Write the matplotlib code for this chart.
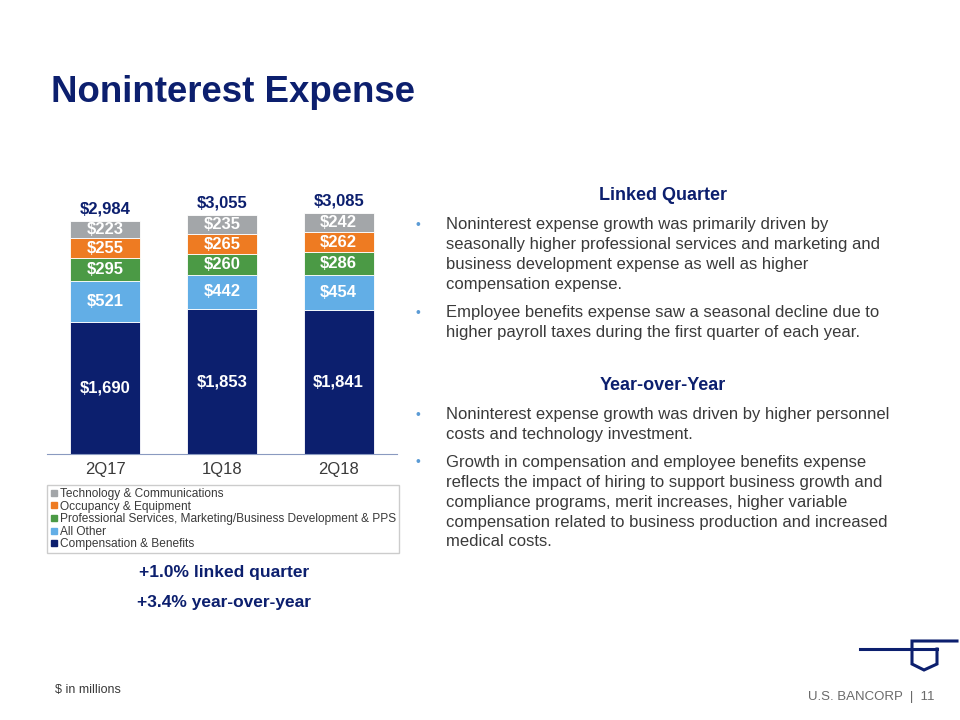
"""Noninterest Expense — stacked bars 2Q17 / 1Q18 / 2Q18, slide layout."""
import numpy as np
import matplotlib
matplotlib.use("Agg")
import matplotlib.pyplot as plt
from matplotlib.lines import Line2D

NAVY = "#0c1f6e"
TXT = "#3a3a3a"

quarters = ["2Q17", "1Q18", "2Q18"]
comp_benefits = [1690, 1853, 1841]
all_other = [521, 442, 454]
prof_services = [295, 260, 286]
occupancy = [255, 265, 262]
technology = [223, 235, 242]
totals = ["$2,984", "$3,055", "$3,085"]

series = [
    ("Compensation & Benefits", comp_benefits, "#0c1f6e"),
    ("All Other", all_other, "#62aee6"),
    ("Professional Services, Marketing/Business Development & PPS", prof_services, "#4b9a45"),
    ("Occupancy & Equipment", occupancy, "#ee7b22"),
    ("Technology & Communications", technology, "#a3a6a9"),
]

plt.rcParams["font.family"] = ["Liberation Sans", "DejaVu Sans"]
fig = plt.figure(figsize=(9.6, 7.2), dpi=100)

# chart area (pixel layout of the slide)
ax = fig.add_axes([47 / 960, 1 - 454 / 720, 350 / 960, 273.4 / 720])
x = np.arange(len(quarters))
bottom = np.zeros(len(quarters))
for name, vals, col in series:
    vals = np.array(vals, dtype=float)
    ax.bar(x, vals, 0.6, bottom=bottom, color=col, edgecolor="white", lw=0.6)
    for xi, b, v in zip(x, bottom, vals):
        ax.text(xi, b + v / 2, f"${v:,.0f}", ha="center", va="center",
                color="white", fontsize=12, fontweight="bold")
    bottom += vals
for xi, top, lab in zip(x, bottom, totals):
    ax.text(xi, top + 60, lab, ha="center", va="bottom", color=NAVY,
            fontsize=12, fontweight="bold")
ax.set_xlim(-0.5, 2.5)
ax.set_ylim(0, 3500)
ax.set_yticks([])
ax.set_xticks(x)
ax.set_xticklabels(quarters, fontsize=12, color=TXT)
ax.tick_params(axis="x", length=0, pad=6)
for s in ["top", "right", "left"]:
    ax.spines[s].set_visible(False)
ax.spines["bottom"].set_color("#8a9ac0")

handles = [Line2D([], [], marker="s", ls="", color=col, markersize=5, label=name)
           for name, _, col in series[::-1]]
fig.legend(handles=handles, loc="upper left", bbox_to_anchor=(47 / 960, 1 - 485 / 720),
           fontsize=8.6, frameon=True, fancybox=False, edgecolor="#c0c0c0",
           handlelength=0.6, handletextpad=0.2, labelspacing=0.05,
           borderpad=0.25, borderaxespad=0, labelcolor=TXT)

# title and annotations
fig.text(51 / 960, 1 - 93 / 720, "Noninterest Expense", fontsize=26.4, fontweight="bold",
         color=NAVY, va="center")
fig.text(224 / 960, 1 - 573 / 720, "+1.0% linked quarter", fontsize=12.5,
         fontweight="bold", color=NAVY, ha="center", va="center")
fig.text(224 / 960, 1 - 603 / 720, "+3.4% year-over-year", fontsize=12.5,
         fontweight="bold", color=NAVY, ha="center", va="center")
fig.text(55 / 960, 1 - 690 / 720, "$ in millions", fontsize=9, color=TXT, va="center")
fig.text(935 / 960, 1 - 697 / 720, "U.S. BANCORP  |  11", fontsize=9.5, color="#6a6a6a",
         ha="right", va="center")

# right-hand commentary
blocks = [
    (195, "Linked Quarter", [
        (225, ["Noninterest expense growth was primarily driven by",
               "seasonally higher professional services and marketing and",
               "business development expense as well as higher",
               "compensation expense."]),
        (313, ["Employee benefits expense saw a seasonal decline due to",
               "higher payroll taxes during the first quarter of each year."]),
    ]),
    (385, "Year-over-Year", [
        (415, ["Noninterest expense growth was driven by higher personnel",
               "costs and technology investment."]),
        (462, ["Growth in compensation and employee benefits expense",
               "reflects the impact of hiring to support business growth and",
               "compliance programs, merit increases, higher variable",
               "compensation related to business production and increased",
               "medical costs."]),
    ]),
]
for yh, head, bullets in blocks:
    fig.text(663 / 960, 1 - yh / 720, head, fontsize=13, fontweight="bold", color=NAVY,
             ha="center", va="center")
    for yb, lines in bullets:
        fig.text(418 / 960, 1 - yb / 720, "•", fontsize=10, color="#5b9bd5",
                 ha="center", va="center")
        for i, ln in enumerate(lines):
            fig.text(446 / 960, 1 - (yb + i * 20) / 720, ln, fontsize=12.0,
                     color=TXT, va="center")

# logo mark
px = lambda xs, ys: ([v / 960 for v in xs], [1 - v / 720 for v in ys])
for xs, ys in [([860, 937], [649, 649]),
               ([957, 912, 912, 924, 937, 937], [641, 641, 664, 670, 664, 649])]:
    fx, fy = px(xs, ys)
    fig.add_artist(Line2D(fx, fy, color=NAVY, lw=2.2, solid_joinstyle="miter"))

fig.savefig("out.png", dpi=100)
